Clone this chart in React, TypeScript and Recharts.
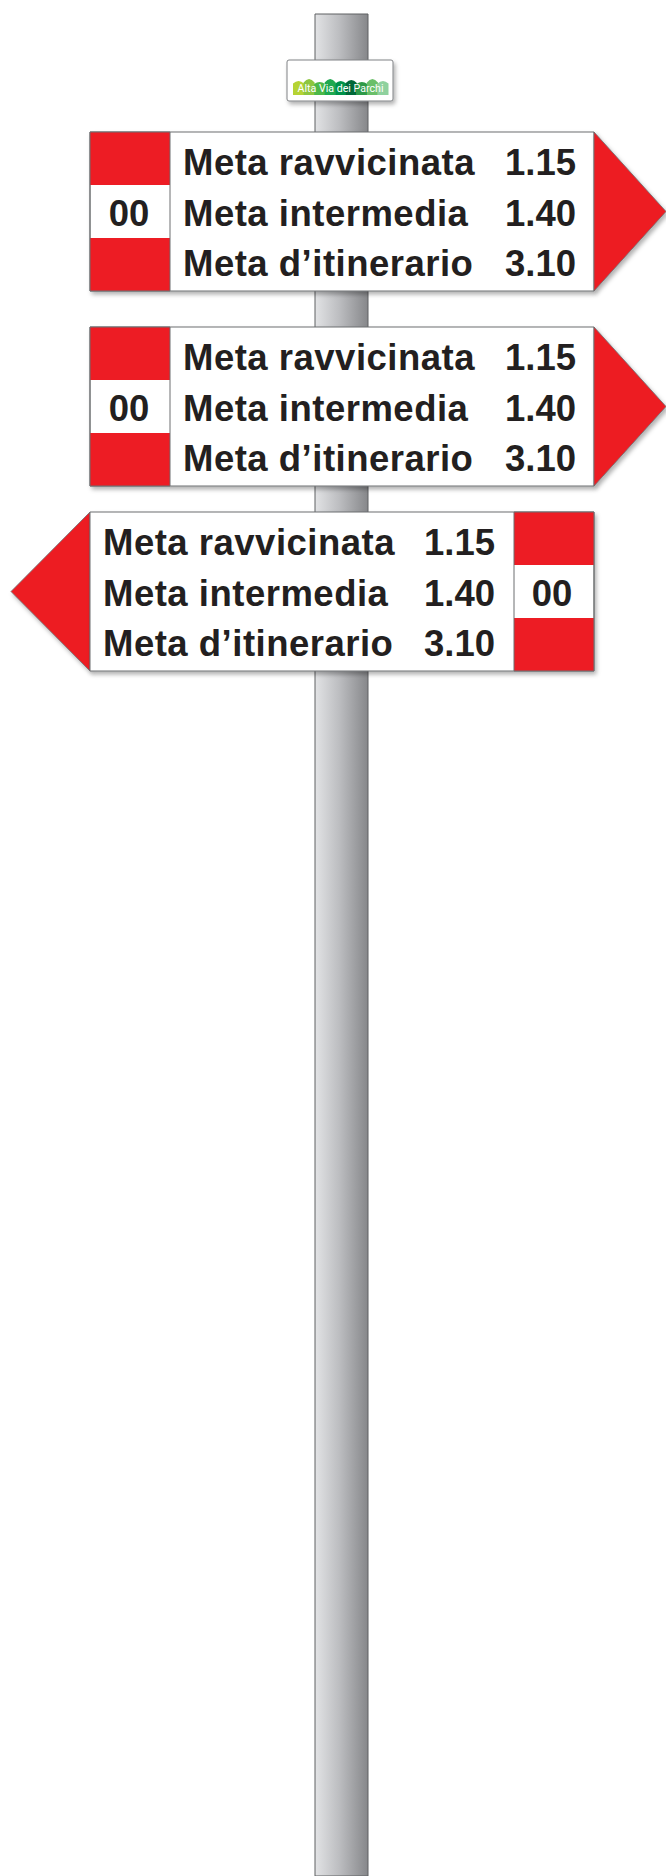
import { ComposedChart, XAxis, YAxis, ReferenceArea, Scatter } from "recharts";

// sign content
const destinations = ["Meta ravvicinata", "Meta intermedia", "Meta d’itinerario"];
const walkTimes = ["1.15", "1.40", "3.10"];
const trailCodes = ["00", "00", "00"];
const signDirections = ["right", "right", "left"];
const logoLabel = "Alta Via dei Parchi";

// layout (page pixels, the chart frame maps 1:1)
const W = 666;
const H = 1876;
const POLE = { x1: 315, x2: 368, y1: 14 };
const LOGO = { x1: 287, x2: 393, y1: 60, y2: 101 };
const BAND = { x1: 293, x2: 388, y1: 79, y2: 95 };
const SIGN_TOPS = [132, 327, 512];
const SIGN_H = 159;
const BOX = { x1: 90, x2: 594 };
const CODE_W = 80;
const ARROW_TIP = { right: 666, left: 11 };
const ROW_BASE = [43, 94, 144];

const RED = "#ed1c24";
const INK = "#231f20";
const EDGE = "#6d6e71";
const GREENS = ["#b5d334", "#8dc63f", "#4cb848", "#1fa84f", "#00924a", "#006838", "#2e9a48", "#6abf69", "#8fd19e"];
const BUMPS = [3, 5, 2, 5, 3, 4, 2, 5, 3];
const FONT = "'Liberation Sans', Arial, Helvetica, sans-serif";

type TextRow = { x: number; y: number; label: string; anchor: "start" | "middle" | "end" };

const textRows: TextRow[] = signDirections.flatMap((dir, s) => {
  const top = SIGN_TOPS[s];
  const left = dir === "left";
  const textX = left ? 103 : 183;
  const timeX = left ? 495 : 576;
  const codeX = left ? BOX.x2 - CODE_W / 2 - 2 : BOX.x1 + CODE_W / 2 - 1;
  const rows: TextRow[] = destinations.flatMap((d, i) => [
    { x: textX, y: top + ROW_BASE[i], label: d, anchor: "start" as const },
    { x: timeX, y: top + ROW_BASE[i], label: walkTimes[i], anchor: "end" as const },
  ]);
  rows.push({ x: codeX, y: top + ROW_BASE[1], label: trailCodes[s], anchor: "middle" });
  return rows;
});

const TextMark = (p: any) => (
  <text
    x={p.cx}
    y={p.cy}
    textAnchor={p.payload.anchor}
    fontFamily={FONT}
    fontWeight="bold"
    fontSize={36.5}
    letterSpacing={p.payload.anchor === "start" ? 0.5 : 0}
    fill={INK}
  >
    {p.payload.label}
  </text>
);

const arrowShape = (dir: string) => (p: any) => {
  const { x, y, width, height } = p;
  const pts =
    dir === "right"
      ? `${x},${y} ${x + width},${y + height / 2} ${x},${y + height}`
      : `${x + width},${y} ${x},${y + height / 2} ${x + width},${y + height}`;
  return <polygon points={pts} fill={RED} stroke={EDGE} strokeWidth={0.8} filter="url(#signShadow)" />;
};

const logoBand = (p: any) => {
  const { x, y, width, height } = p;
  const seg = width / GREENS.length;
  return (
    <g>
      {GREENS.map((c, i) => {
        const x0 = x + i * seg;
        const x1 = x0 + seg + 0.5;
        const top = y + 4 - BUMPS[i] / 2;
        return (
          <path
            key={i}
            d={`M${x0},${y + height} L${x0},${top + 2} Q${(x0 + x1) / 2},${top - BUMPS[i]} ${x1},${top + 2} L${x1},${y + height} Z`}
            fill={c}
          />
        );
      })}
      <text
        x={x + width / 2}
        y={y + height - 3}
        textAnchor="middle"
        fontFamily="'Liberation Sans Narrow', 'Roboto', Arial, sans-serif"
        fontSize={11}
        fill="#ffffff"
        textLength={86}
        lengthAdjust="spacingAndGlyphs"
      >
        {logoLabel}
      </text>
    </g>
  );
};

export default function App() {
  const signs = signDirections.map((dir, s) => {
    const top = SIGN_TOPS[s];
    const bottom = top + SIGN_H;
    const left = dir === "left";
    const codeX1 = left ? BOX.x2 - CODE_W : BOX.x1;
    const codeX2 = left ? BOX.x2 : BOX.x1 + CODE_W;
    const stripe = SIGN_H / 3;
    const box = (
      <ReferenceArea
        key={`box${s}`}
        x1={BOX.x1}
        x2={BOX.x2}
        y1={top}
        y2={bottom}
        fill="#ffffff"
        fillOpacity={1}
        stroke={EDGE}
        strokeWidth={1}
        filter="url(#signShadow)"
        ifOverflow="visible"
      />
    );
    const arrow = (
      <ReferenceArea
        key={`arrow${s}`}
        x1={left ? ARROW_TIP.left : BOX.x2}
        x2={left ? BOX.x1 : ARROW_TIP.right}
        y1={top}
        y2={bottom}
        ifOverflow="visible"
        shape={arrowShape(dir)}
      />
    );
    return [
      ...(left ? [arrow, box] : [box, arrow]),
      <ReferenceArea key={`rt${s}`} x1={codeX1} x2={codeX2} y1={top} y2={top + stripe} fill={RED} fillOpacity={1} ifOverflow="visible" />,
      <ReferenceArea key={`rb${s}`} x1={codeX1} x2={codeX2} y1={bottom - stripe} y2={bottom} fill={RED} fillOpacity={1} ifOverflow="visible" />,
      <ReferenceArea key={`co${s}`} x1={codeX1} x2={codeX2} y1={top} y2={bottom} fill="none" stroke={EDGE} strokeWidth={1} ifOverflow="visible" />,
    ];
  });

  return (
    <div style={{ width: W, height: H, background: "#ffffff" }}>
      <style>{"body{margin:0}"}</style>
      <svg width={0} height={0} style={{ position: "absolute" }}>
        <defs>
          <linearGradient id="poleGrad" x1="0" y1="0" x2="1" y2="0">
            <stop offset="0" stopColor="#e2e3e5" />
            <stop offset="0.45" stopColor="#bdbec1" />
            <stop offset="1" stopColor="#86878a" />
          </linearGradient>
          <filter id="signShadow" x="-10%" y="-10%" width="125%" height="130%">
            <feDropShadow dx="2" dy="3" stdDeviation="2" floodColor="#000000" floodOpacity="0.3" />
          </filter>
        </defs>
      </svg>
      <ComposedChart width={W} height={H} margin={{ top: 0, right: 0, bottom: 0, left: 0 }}>
        <XAxis type="number" dataKey="x" domain={[0, W]} hide allowDataOverflow />
        <YAxis type="number" dataKey="y" domain={[0, H]} reversed hide allowDataOverflow />
        <ReferenceArea
          x1={POLE.x1}
          x2={POLE.x2}
          y1={POLE.y1}
          y2={H}
          fill="url(#poleGrad)"
          fillOpacity={1}
          stroke="#5f6063"
          strokeWidth={1}
          ifOverflow="visible"
        />
        <ReferenceArea
          x1={LOGO.x1}
          x2={LOGO.x2}
          y1={LOGO.y1}
          y2={LOGO.y2}
          fill="#ffffff"
          fillOpacity={1}
          stroke="#808285"
          strokeWidth={1}
          radius={2}
          filter="url(#signShadow)"
          ifOverflow="visible"
        />
        <ReferenceArea x1={BAND.x1} x2={BAND.x2} y1={BAND.y1} y2={BAND.y2} ifOverflow="visible" shape={logoBand} />
        {signs.flat()}
        <Scatter data={textRows} dataKey="y" shape={TextMark} isAnimationActive={false} />
      </ComposedChart>
    </div>
  );
}
